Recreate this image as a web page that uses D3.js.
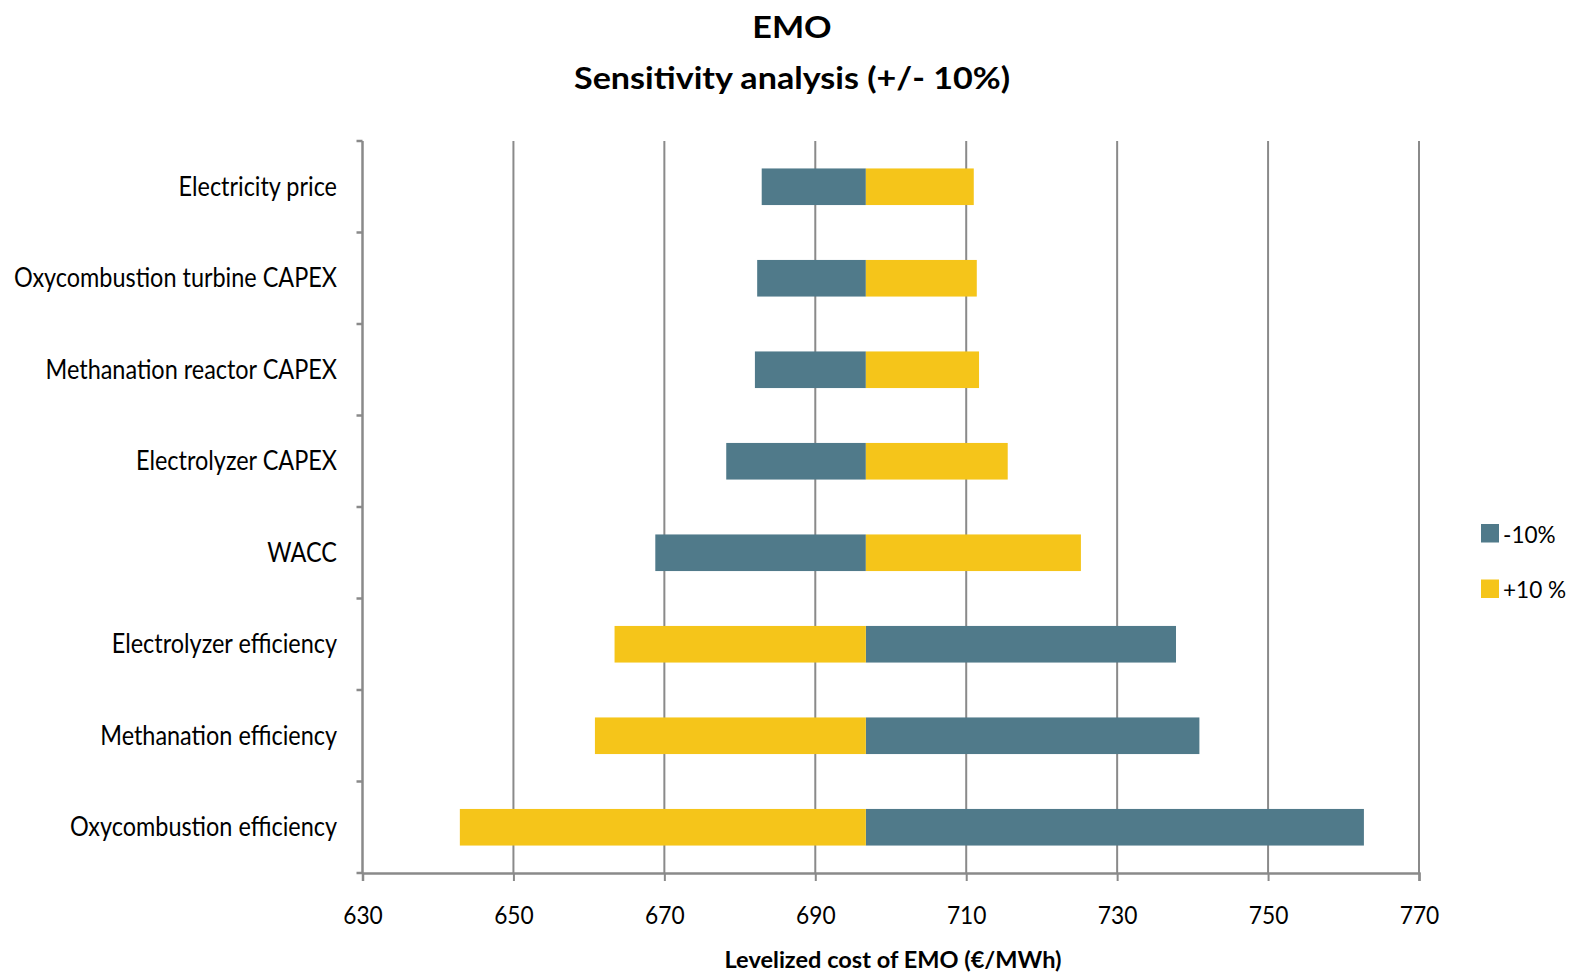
<!DOCTYPE html>
<html>
<head>
<meta charset="utf-8">
<script src="https://cdn.jsdelivr.net/npm/d3@7"></script>
<style>
  body { margin: 0; background: #fff; }
  svg { display: block; }
  text { font-family: Lato, "Open Sans", "DejaVu Sans", sans-serif; fill: #000; }
</style>
</head>
<body>
<svg id="chart" width="1579" height="974"></svg>
<script>
// Sensitivity of the levelized cost of EMO to +/-10 % changes in each input
const categories = [
  "Electricity price",
  "Oxycombustion turbine CAPEX",
  "Methanation reactor CAPEX",
  "Electrolyzer CAPEX",
  "WACC",
  "Electrolyzer efficiency",
  "Methanation efficiency",
  "Oxycombustion efficiency"
];
const baseCost = 696.7;                     // €/MWh, reference case
const minus10 = [682.9, 682.3, 682.0, 678.2, 668.8, 737.8, 740.9, 762.7];
const plus10  = [711.0, 711.4, 711.7, 715.5, 725.2, 663.4, 660.8, 642.9];
const xTicks = [630, 650, 670, 690, 710, 730, 750, 770];
const seriesNames = ["-10%", "+10 %"];
const seriesColors = ["#507a8a", "#f5c51a"];
const titleLines = ["EMO", "Sensitivity analysis (+/- 10%)"];
const xAxisTitle = "Levelized cost of EMO (€/MWh)";

const svg = d3.select("#chart");
const plot = { left: 362.5, right: 1419, top: 141, bottom: 873 };
const gridColor = "#8a8a8a";

const x = d3.scaleLinear().domain([630, 770]).range([plot.left, plot.right]);
const y = d3.scaleBand().domain(categories)
  .range([plot.top, plot.bottom]).paddingInner(0.6).paddingOuter(0.3);

// Narrow the text horizontally (Calibri-like proportions)
function squeeze(sel, factor) {
  sel.each(function () {
    const w = this.getComputedTextLength();
    d3.select(this).attr("textLength", w * factor).attr("lengthAdjust", "spacingAndGlyphs");
  });
}
function factorFor(text, size, weight, target) {
  const t = svg.append("text").attr("font-size", size).attr("font-weight", weight).text(text);
  const w = t.node().getComputedTextLength();
  t.remove();
  return target / w;
}

// Vertical gridlines
svg.append("g").selectAll("line")
  .data(xTicks.slice(1))
  .join("line")
  .attr("x1", d => x(d)).attr("x2", d => x(d))
  .attr("y1", plot.top).attr("y2", plot.bottom)
  .attr("stroke", gridColor).attr("stroke-width", 2);

// Bars: each series drawn from the base case to its value
const rows = categories.map((c, i) => ({ cat: c, values: [minus10[i], plus10[i]] }));
const barG = svg.append("g");
rows.forEach(r => {
  r.values.forEach((v, s) => {
    barG.append("rect")
      .attr("x", x(Math.min(v, baseCost)))
      .attr("width", Math.abs(x(v) - x(baseCost)))
      .attr("y", y(r.cat))
      .attr("height", y.bandwidth())
      .attr("fill", seriesColors[s]);
  });
});

// Y axis line with ticks at category boundaries
const yAxisG = svg.append("g");
yAxisG.append("line")
  .attr("x1", plot.left).attr("x2", plot.left)
  .attr("y1", plot.top).attr("y2", plot.bottom)
  .attr("stroke", gridColor).attr("stroke-width", 2.5);
yAxisG.selectAll("line.tick")
  .data(d3.range(categories.length + 1))
  .join("line").attr("class", "tick")
  .attr("x1", plot.left - 6).attr("x2", plot.left)
  .attr("y1", i => plot.top + i * y.step()).attr("y2", i => plot.top + i * y.step())
  .attr("stroke", gridColor).attr("stroke-width", 2.5);

// Category labels
const catFactor = factorFor("Oxycombustion turbine CAPEX", 26, 400, 323);
svg.append("g").selectAll("text")
  .data(categories)
  .join("text")
  .attr("x", 337)
  .attr("y", d => y(d) + y.bandwidth() / 2 + 9)
  .attr("text-anchor", "end")
  .attr("font-size", 26)
  .text(d => d)
  .call(squeeze, catFactor);

// X axis
const xAxis = d3.axisBottom(x).tickValues(xTicks).tickSize(8).tickFormat(d3.format("d"));
const xg = svg.append("g").attr("transform", `translate(0,${plot.bottom})`).call(xAxis);
xg.select(".domain").attr("stroke", gridColor).attr("stroke-width", 2.5);
xg.selectAll(".tick line").attr("stroke", gridColor).attr("stroke-width", 2);
const tickFactor = factorFor("630", 25, 400, 39.6);
xg.selectAll(".tick text")
  .attr("fill", "#000")
  .attr("font-size", 25)
  .attr("font-family", "Lato, 'Open Sans', sans-serif")
  .attr("y", 51).attr("dy", null)
  .call(squeeze, tickFactor);

// X axis title
const xtFactor = factorFor(xAxisTitle, 22, 700, 337);
svg.append("text")
  .attr("x", 893).attr("y", 968)
  .attr("text-anchor", "middle")
  .attr("font-size", 22).attr("font-weight", 700)
  .text(xAxisTitle)
  .call(squeeze, xtFactor);

// Chart title
const titleFactor = factorFor(titleLines[1], 31, 700, 436);
svg.append("g").selectAll("text")
  .data(titleLines)
  .join("text")
  .attr("x", 792)
  .attr("y", (d, i) => i === 0 ? 38 : 89)
  .attr("text-anchor", "middle")
  .attr("font-size", 31).attr("font-weight", 700)
  .text(d => d)
  .call(squeeze, titleFactor);

// Legend
const legFactor = factorFor("-10%", 23, 400, 52.7);
const legend = svg.append("g");
seriesNames.forEach((name, i) => {
  const ly = 524 + i * 55.5;
  legend.append("rect")
    .attr("x", 1481).attr("y", ly).attr("width", 18).attr("height", 18.5)
    .attr("fill", seriesColors[i]);
  legend.append("text")
    .attr("x", 1503).attr("y", ly + 18.5)
    .attr("font-size", 23)
    .text(name)
    .call(squeeze, legFactor);
});
</script>
</body>
</html>
